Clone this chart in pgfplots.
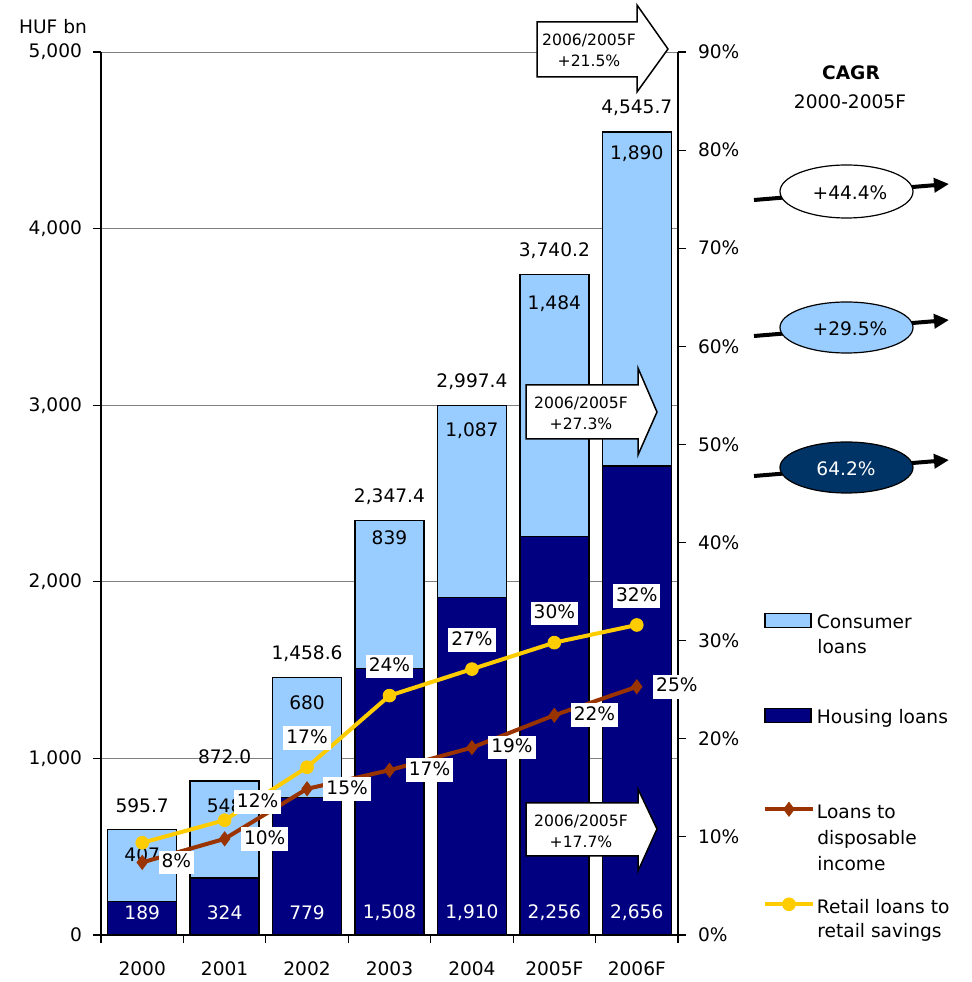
\documentclass[border=0pt]{standalone}
\usepackage{fontspec}
\setmainfont{DejaVu Sans}
\usepackage{pgfplots}
\pgfplotsset{compat=1.18}
\usetikzlibrary{arrows.meta}

\definecolor{consumer}{RGB}{153,204,255}
\definecolor{housing}{RGB}{0,0,128}
\definecolor{dispinc}{RGB}{153,51,0}
\definecolor{savings}{RGB}{255,204,0}
\definecolor{ovaldark}{RGB}{0,51,102}
\definecolor{gridgray}{RGB}{128,128,128}

\tikzset{pctlbl/.style={fill=white, inner sep=1.5pt, text height=7pt, text depth=1.8pt},
  arrowtxt/.style={align=center, font=\fontsize{7.8}{10.5}\selectfont}}

\begin{document}
\begin{tikzpicture}[font=\fontsize{9.3}{11.2}\selectfont]
\path[use as bounding box] (-50.5pt,-23.5pt) rectangle (435.5pt,467.5pt);

% bars, left axis (HUF bn)
\begin{axis}[
  at={(0pt,0pt)}, anchor=south west, scale only axis,
  width=288.5pt, height=441.5pt,
  xmin=-0.5, xmax=6.5, ymin=0, ymax=5000,
  ybar stacked, bar width=34.5pt, clip=false,
  axis x line*=bottom, axis y line*=left,
  axis line style={-, black, line width=0.6pt},
  xtick={0,...,6}, xticklabels={2000,2001,2002,2003,2004,2005F,2006F},
  xticklabel style={yshift=-6pt},
  yticklabel style={xshift=-2pt},
  major x tick style={draw=none},
  minor xtick={-0.5,0.5,...,6.5},
  ytick={0,1000,...,5000}, scaled y ticks=false,
  ymajorgrids, grid style={gridgray, line width=0.5pt},
  tick align=outside, major tick length=4pt, minor tick length=4pt,
  tick style={black, line width=0.6pt},
  /pgf/number format/assume math mode=true,
  /pgf/number format/1000 sep={,},
]
\addplot[fill=housing, draw=black, line width=0.75pt] coordinates {(0,189) (1,324) (2,779) (3,1508) (4,1910) (5,2256) (6,2656)};
\addplot[fill=consumer, draw=black, line width=0.75pt] coordinates {(0,407) (1,548) (2,680) (3,839) (4,1087) (5,1484) (6,1890)};

% totals
\node[yshift=12pt] at (axis cs:0,595.7) {595.7};
\node[yshift=12pt] at (axis cs:1,872) {872.0};
\node[yshift=12pt] at (axis cs:2,1458.6) {1,458.6};
\node[yshift=12pt] at (axis cs:3,2347.4) {2,347.4};
\node[yshift=12pt] at (axis cs:4,2997.4) {2,997.4};
\node[yshift=12pt] at (axis cs:5,3740.2) {3,740.2};
\node[yshift=12pt] at (axis cs:6,4545.7) {4,545.7};
\end{axis}

% ratios, right axis (%)
\begin{axis}[
  at={(0pt,0pt)}, anchor=south west, scale only axis,
  width=288.5pt, height=441.5pt,
  xmin=-0.5, xmax=6.5, ymin=0, ymax=90, clip=false,
  axis x line=none, axis y line*=right,
  axis line style={-, black, line width=0.6pt},
  ytick={0,10,...,90},
  yticklabel={\pgfmathprintnumber{\tick}\%},
  yticklabel style={xshift=2.5pt},
  tick align=outside, major tick length=4pt,
  tick style={black, line width=0.6pt},
  /pgf/number format/assume math mode=true,
  legend style={at={(1.1473,0.3655)}, anchor=north west, draw=none, fill=none,
    inner sep=0pt, outer sep=0pt, row sep=37pt, column sep=1pt,
    nodes={inner sep=0pt, outer sep=0pt, text height=8pt, text depth=2.5pt},
    cells={anchor=base west}},
]
% value labels inside the bars (left-axis values scaled by 90/5000)
\node[yshift=-12.5pt] at (axis cs:0,{595.7*0.018}) {407};
\node[yshift=-12.5pt] at (axis cs:1,{872*0.018}) {548};
\node[yshift=-12.5pt] at (axis cs:2,{1458.6*0.018}) {680};
\node[yshift=-8.5pt] at (axis cs:3,{2347.4*0.018}) {839};
\node[yshift=-12.5pt] at (axis cs:4,{2997.4*0.018}) {1,087};
\node[yshift=-14.5pt] at (axis cs:5,{3740.2*0.018}) {1,484};
\node[yshift=-10.5pt] at (axis cs:6,{4545.7*0.018}) {1,890};
\node[text=white] at (axis cs:0,2.25) {189};
\node[text=white] at (axis cs:1,2.25) {324};
\node[text=white] at (axis cs:2,2.25) {779};
\node[text=white] at (axis cs:3,2.25) {1,508};
\node[text=white] at (axis cs:4,2.25) {1,910};
\node[text=white] at (axis cs:5,2.25) {2,256};
\node[text=white] at (axis cs:6,2.25) {2,656};

\addlegendimage{legend image code/.code={\draw[fill=consumer,draw=black,line width=0.75pt] (0pt,0.5pt) rectangle (23pt,7.5pt);}}
\addlegendentry{Consumer}
\addlegendimage{legend image code/.code={\draw[fill=housing,draw=black,line width=0.75pt] (0pt,0.5pt) rectangle (23pt,7.5pt);}}
\addlegendentry{Housing loans}

\addplot[dispinc, line width=2pt, mark=diamond*, mark size=3.5pt, mark options={line width=0.4pt},
  legend image code/.code={\draw[mark repeat=2,mark phase=2] plot coordinates {(0pt,4.5pt) (12pt,4.5pt) (24pt,4.5pt)};}]
  coordinates {(0,7.4) (1,9.8) (2,14.9) (3,16.8) (4,19.1) (5,22.4) (6,25.3)};
\addlegendentry{Loans to}
\addplot[savings, line width=2pt, mark=*, mark size=3.2pt, mark options={line width=0.4pt},
  legend image code/.code={\draw[mark repeat=2,mark phase=2] plot coordinates {(0pt,4.5pt) (12pt,4.5pt) (24pt,4.5pt)};}]
  coordinates {(0,9.4) (1,11.7) (2,17.1) (3,24.4) (4,27.1) (5,29.8) (6,31.6)};
\addlegendentry{Retail loans to}

% loans to disposable income labels
\node[pctlbl, anchor=west, xshift=8pt] at (axis cs:0,7.4) {8\%};
\node[pctlbl, anchor=west, xshift=8pt] at (axis cs:1,9.8) {10\%};
\node[pctlbl, anchor=west, xshift=8pt] at (axis cs:2,14.9) {15\%};
\node[pctlbl, anchor=west, xshift=8pt] at (axis cs:3,16.8) {17\%};
\node[pctlbl, anchor=west, xshift=8pt] at (axis cs:4,19.1) {19\%};
\node[pctlbl, anchor=west, xshift=8pt] at (axis cs:5,22.4) {22\%};
\node[pctlbl, anchor=west, xshift=8pt] at (axis cs:6,25.3) {25\%};
% retail loans to savings labels
\node[pctlbl, xshift=16.5pt, yshift=9pt] at (axis cs:1,11.7) {12\%};
\node[pctlbl, yshift=14.5pt] at (axis cs:2,17.1) {17\%};
\node[pctlbl, yshift=14.5pt] at (axis cs:3,24.4) {24\%};
\node[pctlbl, yshift=14.5pt] at (axis cs:4,27.1) {27\%};
\node[pctlbl, yshift=14.5pt] at (axis cs:5,29.8) {30\%};
\node[pctlbl, yshift=14.5pt] at (axis cs:6,31.6) {32\%};
\end{axis}

% annotations, in reference pixel coordinates
\begin{scope}[x=0.5pt, y=-0.5pt, shift={(-50.5pt,467.5pt)}]
\node at (53,27) {HUF bn};

% second lines of the legend entries
\node[anchor=base west, inner sep=0pt] at (817,654) {loans};
\node[anchor=base west, inner sep=0pt] at (817,845) {disposable};
\node[anchor=base west, inner sep=0pt] at (817,871) {income};
\node[anchor=base west, inner sep=0pt] at (817,938) {retail savings};

\draw[fill=white, line width=0.75pt] (537,22) -- (637,22) -- (637,5) -- (668,49) -- (637,92) -- (637,77) -- (537,77) -- cycle;
\node[arrowtxt] at (589,50) {2006/2005F\\+21.5\%};
\draw[fill=white, line width=0.75pt] (526,385) -- (638,385) -- (638,368) -- (657,412) -- (638,455) -- (638,439) -- (526,439) -- cycle;
\node[arrowtxt] at (581,413) {2006/2005F\\+27.3\%};
\draw[fill=white, line width=0.75pt] (526,803) -- (638,803) -- (638,789) -- (657,829) -- (638,871) -- (638,856) -- (526,856) -- cycle;
\node[arrowtxt] at (581,831) {2006/2005F\\+17.7\%};

\node[font=\fontsize{9.3}{11.2}\selectfont\bfseries] at (851,73) {CAGR};
\node at (850,102) {2000-2005F};

\draw[line width=2pt, -{Triangle[length=7.5pt,width=7pt]}] (754,200) -- (949,184);
\draw[fill=white, line width=0.6pt] (846.5,191.5) ellipse [x radius=33.25pt, y radius=13.25pt];
\node at (850,193) {+44.4\%};
\draw[line width=2pt, -{Triangle[length=7.5pt,width=7pt]}] (754,336) -- (949,320);
\draw[fill=consumer, line width=0.6pt] (846.5,327.5) ellipse [x radius=33.25pt, y radius=12.75pt];
\node at (850,329) {+29.5\%};
\draw[line width=2pt, -{Triangle[length=7.5pt,width=7pt]}] (754,476) -- (949,460);
\draw[fill=ovaldark, line width=0.6pt] (846.5,467.5) ellipse [x radius=33.25pt, y radius=12.75pt];
\node[text=white] at (846,469) {64.2\%};
\end{scope}
\end{tikzpicture}
\end{document}
